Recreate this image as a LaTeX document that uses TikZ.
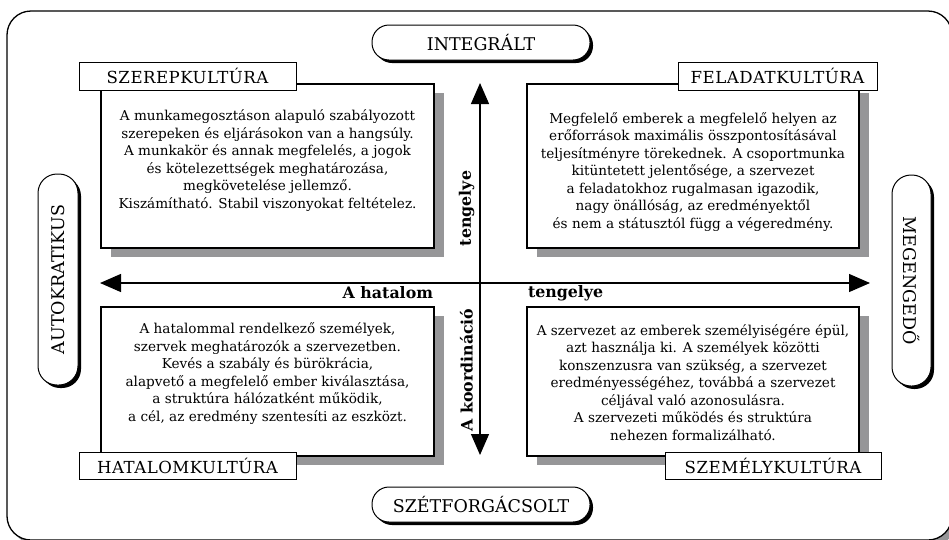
\documentclass[tikz,border=0pt]{standalone}
\usepackage{fontspec}
\setmainfont{DejaVu Serif}
\newfontfamily\capfont[LetterSpace=3]{DejaVu Serif}
\usetikzlibrary{arrows.meta,shadows}
\definecolor{boxshade}{RGB}{150,150,152}
\begin{document}
\begin{tikzpicture}[x=1pt,y=-1pt,
  every node/.style={inner sep=0pt,outer sep=0pt},
  textbox/.style={draw,line width=1.1pt,fill=white,
    drop shadow={shadow xshift=10pt,shadow yshift=-9pt,fill=boxshade,opacity=1}},
  bodytext/.style={align=center,font=\fontsize{13.6}{17.5}\selectfont},
  caption/.style={draw,line width=1pt,fill=white,font=\capfont\fontsize{16.6}{18}\selectfont},
  pill/.style={draw,line width=1pt,fill=white,rounded corners=17pt,
    drop shadow={shadow xshift=3pt,shadow yshift=-3pt,fill=black,opacity=1},
    font=\fontsize{17.5}{18}\selectfont},
  poletext/.style={font=\fontsize{17.5}{18}\selectfont},
  axis/.style={line width=1.3pt,{Triangle[length=21pt,width=18pt]}-{Triangle[length=21pt,width=18pt]}},
  axislabel/.style={font=\bfseries\fontsize{15.8}{18}\selectfont}
]
\useasboundingbox (0,0) rectangle (949,539);

% outer frame
\node[draw,line width=1.3pt,fill=white,rounded corners=24pt,
  drop shadow={shadow xshift=5pt,shadow yshift=-5pt,fill=boxshade,opacity=1},
  minimum width=945pt,minimum height=529pt] (frame) at (479.5,275.5) {};

% quadrant boxes
\node[textbox,minimum width=333pt,minimum height=164pt] (roleBox) at (267.5,166) {};
\node[textbox,minimum width=332pt,minimum height=164pt] (taskBox) at (693,166) {};
\node[textbox,minimum width=333pt,minimum height=149pt] (powerBox) at (267.5,381.5) {};
\node[textbox,minimum width=332pt,minimum height=149pt] (personBox) at (693,381.5) {};

\node[bodytext] (roleText) at (267.5,160.5) {A munkamegosztáson alapuló szabályozott\\
szerepeken és eljárásokon van a hangsúly.\\
A munkakör és annak megfelelés, a jogok\\
és kötelezettségek meghatározása,\\
megkövetelése jellemző.\\
Kiszámítható. Stabil viszonyokat feltételez.};

\node[bodytext] (taskText) at (693,172) {Megfelelő emberek a megfelelő helyen az\\
erőforrások maximális összpontosításával\\
teljesítményre törekednek. A csoportmunka\\
kitüntetett jelentősége, a szervezet\\
a feladatokhoz rugalmasan igazodik,\\
nagy önállóság, az eredményektől\\
és nem a státusztól függ a végeredmény.};

\node[bodytext] (powerText) at (267.5,373.5) {A hatalommal rendelkező személyek,\\
szervek meghatározók a szervezetben.\\
Kevés a szabály és bürökrácia,\\
alapvető a megfelelő ember kiválasztása,\\
a struktúra hálózatként működik,\\
a cél, az eredmény szentesíti az eszközt.};

\node[bodytext] (personText) at (693,382.5) {A szervezet az emberek személyiségére épül,\\
azt használja ki. A személyek közötti\\
konszenzusra van szükség, a szervezet\\
eredményességéhez, továbbá a szervezet\\
céljával való azonosulásra.\\
A szervezeti működés és struktúra\\
nehezen formalizálható.};

% culture captions
\node[caption,minimum width=217pt,minimum height=28pt] (roleCap) at (187.5,76) {SZEREPKULTÚRA};
\node[caption,minimum width=199pt,minimum height=28pt] (taskCap) at (777.5,76) {FELADATKULTÚRA};
\node[caption,minimum width=217pt,minimum height=27pt] (powerCap) at (187.5,465.5) {HATALOMKULTÚRA};
\node[caption,minimum width=216pt,minimum height=27pt] (personCap) at (773,465.5) {SZEMÉLYKULTÚRA};

% axes
\coordinate (coordTop) at (480,83);
\coordinate (coordBottom) at (480,455);
\coordinate (powerLeft) at (100,283);
\coordinate (powerRight) at (870,283);
\draw[axis] (coordTop) -- (coordBottom);
\draw[axis] (powerLeft) -- (powerRight);

\node[axislabel,anchor=east] (powerLabel) at (433,293) {A hatalom};
\node[axislabel,anchor=west] (powerLabelB) at (528,293) {tengelye};
\node[axislabel,rotate=90] (coordLabelB) at (466.5,208.5) {tengelye};
\node[axislabel,rotate=90] (coordLabel) at (466.5,370) {A koordináció};

% pole labels
\node[pill,minimum width=218pt,minimum height=35pt] (integ) at (481,42.5) {INTEGRÁLT};
\node[pill,minimum width=218pt,minimum height=35pt] (frag) at (481,504.5) {SZÉTFORGÁCSOLT};
\node[pill,rounded corners=19pt,minimum width=40pt,minimum height=211pt] (autoc) at (58,279.5) {};
\node[pill,rounded corners=19pt,minimum width=39pt,minimum height=211pt] (permis) at (911.5,280.5) {};
\node[poletext,rotate=90] (autocText) at (autoc) {AUTOKRATIKUS};
\node[poletext,rotate=-90] (permisText) at (permis) {MEGENGEDŐ};
\end{tikzpicture}
\end{document}
